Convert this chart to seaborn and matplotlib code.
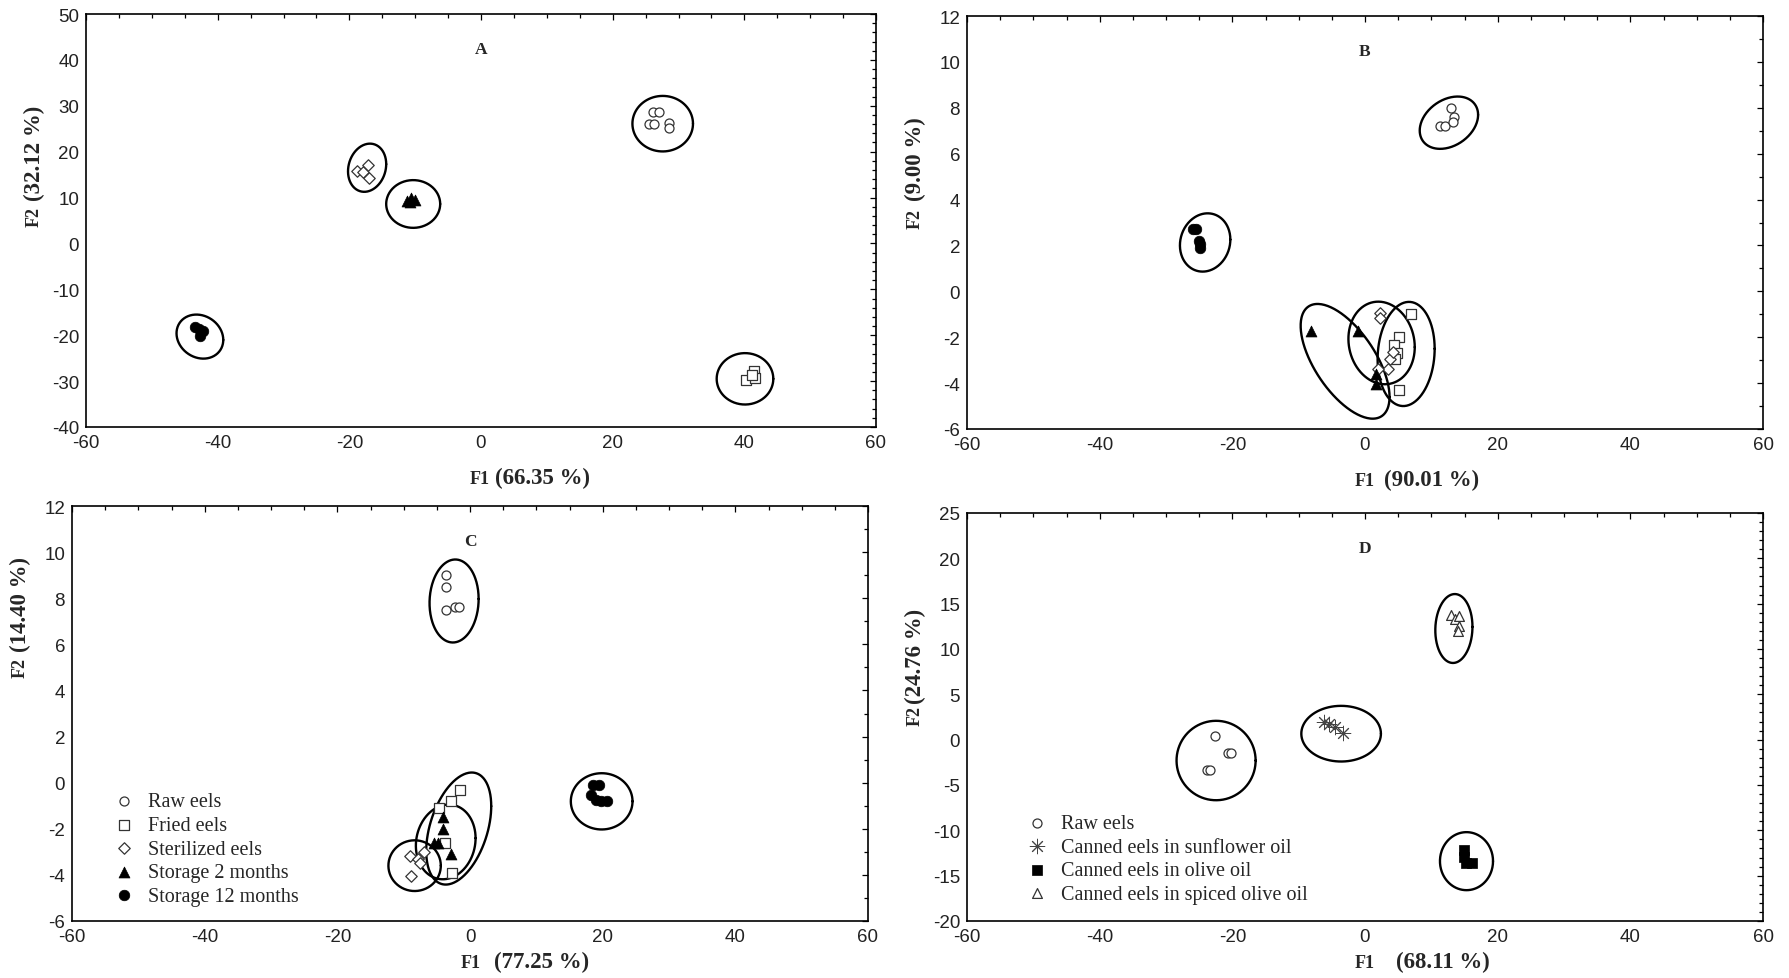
import numpy as np
import pandas as pd
import matplotlib
matplotlib.use("Agg")
import matplotlib.pyplot as plt
from matplotlib import font_manager as fm
from matplotlib.ticker import MultipleLocator
import seaborn as sns

# group names
groups_abc = ["Raw eels", "Fried eels", "Sterilized eels", "Storage 2 months", "Storage 12 months"]
groups_d = ["Raw eels", "Canned eels in sunflower oil", "Canned eels in olive oil",
            "Canned eels in spiced olive oil"]

# ---- panel A scores (F1, F2) ----
A_raw_x = [26.2, 27.0, 25.5, 26.3, 28.5, 28.5]
A_raw_y = [28.6, 28.6, 26.1, 26.1, 26.3, 25.2]
A_fried_x = [40.3, 41.4, 41.6, 41.2]
A_fried_y = [-29.7, -27.8, -29.4, -28.6]
A_ster_x = [-18.9, -18.0, -17.2, -17.0]
A_ster_y = [15.8, 15.6, 17.2, 14.3]
A_s2_x = [-11.2, -10.6, -10.0, -10.8]
A_s2_y = [9.3, 9.8, 9.4, 9.0]
A_s12_x = [-43.5, -42.9, -42.2, -42.7]
A_s12_y = [-18.3, -18.6, -19.0, -20.1]
# ellipses (centre, half extent x / y, tilt)
A_ell_cx = [27.6, 40.1, -17.3, -10.3, -42.7]
A_ell_cy = [26.1, -29.5, 16.5, 8.6, -20.3]
A_ell_sx = [4.6, 4.3, 2.9, 4.1, 3.55]
A_ell_sy = [6.05, 5.6, 5.25, 5.2, 4.8]
A_ell_r = [0.0, 0.0, 0.15, 0.0, -0.15]

# ---- panel B ----
B_raw_x = [11.3, 12.0, 13.0, 13.4, 13.2]
B_raw_y = [7.2, 7.2, 8.0, 7.6, 7.4]
B_fried_x = [7.0, 5.1, 4.4, 4.8, 4.5, 5.1]
B_fried_y = [-0.97, -2.0, -2.35, -2.7, -2.95, -4.3]
B_ster_x = [2.3, 2.2, 3.7, 3.5, 4.2, 1.9]
B_ster_y = [-0.95, -1.15, -2.95, -3.4, -2.65, -3.4]
B_s2_x = [-8.2, -1.0, 1.7, 1.7]
B_s2_y = [-1.75, -1.75, -3.6, -4.05]
B_s12_x = [-25.9, -25.5, -25.0, -24.8, -24.9]
B_s12_y = [2.7, 2.7, 2.2, 1.9, 2.05]
B_ell_cx = [12.65, 6.2, 2.5, -3.0, -24.1]
B_ell_cy = [7.35, -2.73, -2.25, -3.05, 2.13]
B_ell_sx = [4.4, 4.3, 5.0, 6.7, 3.8]
B_ell_sy = [1.14, 2.27, 1.8, 2.5, 1.27]
B_ell_r = [0.3, 0.1, -0.1, -0.62, 0.1]

# ---- panel C ----
C_raw_x = [-3.6, -3.6, -3.6, -2.2, -1.7]
C_raw_y = [9.0, 8.5, 7.5, 7.6, 7.6]
C_fried_x = [-1.5, -2.8, -4.6, -3.8, -2.7]
C_fried_y = [-0.3, -0.8, -1.1, -2.6, -3.9]
C_ster_x = [-9.0, -7.8, -7.0, -7.5, -8.9]
C_ster_y = [-3.2, -3.3, -3.0, -3.5, -4.05]
C_s2_x = [-4.0, -4.0, -5.4, -4.8, -2.8]
C_s2_y = [-1.5, -2.0, -2.6, -2.6, -3.1]
C_s12_x = [18.6, 19.4, 18.2, 19.0, 19.8, 20.6]
C_s12_y = [-0.1, -0.1, -0.55, -0.75, -0.8, -0.8]
C_ell_cx = [-2.4, -1.7, -8.35, -3.66, 19.85]
C_ell_cy = [7.88, -1.99, -3.6, -2.57, -0.81]
C_ell_sx = [3.7, 4.9, 3.95, 4.5, 4.65]
C_ell_sy = [1.8, 2.43, 1.1, 1.62, 1.22]
C_ell_r = [0.05, 0.4, 0.0, 0.1, 0.0]

# ---- panel D ----
D_raw_x = [-22.6, -20.6, -20.2, -23.8, -23.4]
D_raw_y = [0.4, -1.5, -1.5, -3.3, -3.3]
D_sun_x = [-6.2, -5.4, -4.5, -3.3]
D_sun_y = [1.9, 1.7, 1.4, 0.7]
D_olive_x = [14.9, 14.9, 15.2, 16.1]
D_olive_y = [-12.2, -12.9, -13.6, -13.6]
D_spice_x = [12.9, 13.6, 14.1, 14.1, 14.0]
D_spice_y = [13.8, 13.3, 13.6, 12.5, 12.0]
D_ell_cx = [-22.45, -3.6, 15.3, 13.4]
D_ell_cy = [-2.3, 0.66, -13.4, 12.26]
D_ell_sx = [5.96, 6.0, 4.0, 2.8]
D_ell_sy = [4.38, 3.07, 3.2, 3.8]
D_ell_r = [0.0, 0.0, 0.0, 0.05]

# axis labels
x_pct = ["(66.35 %)", "(90.01 %)", "(77.25 %)", "(68.11 %)"]
y_pct = ["(32.12 %)", "(9.00 %)", "(14.40 %)", "(24.76 %)"]
letters = ["A", "B", "C", "D"]


def make_df(groups, xs, ys):
    rows = []
    for g, gx, gy in zip(groups, xs, ys):
        for a, b in zip(gx, gy):
            rows.append((g, a, b))
    return pd.DataFrame(rows, columns=["group", "F1", "F2"])


dfA = make_df(groups_abc, [A_raw_x, A_fried_x, A_ster_x, A_s2_x, A_s12_x],
              [A_raw_y, A_fried_y, A_ster_y, A_s2_y, A_s12_y])
dfB = make_df(groups_abc, [B_raw_x, B_fried_x, B_ster_x, B_s2_x, B_s12_x],
              [B_raw_y, B_fried_y, B_ster_y, B_s2_y, B_s12_y])
dfC = make_df(groups_abc, [C_raw_x, C_fried_x, C_ster_x, C_s2_x, C_s12_x],
              [C_raw_y, C_fried_y, C_ster_y, C_s2_y, C_s12_y])
dfD = make_df(groups_d, [D_raw_x, D_sun_x, D_olive_x, D_spice_x],
              [D_raw_y, D_sun_y, D_olive_y, D_spice_y])

open_ec = "#333333"
styles = {
    "Raw eels": dict(marker="o", s=42, color="white", edgecolor=open_ec, linewidth=0.9),
    "Fried eels": dict(marker="s", s=48, color="white", edgecolor=open_ec, linewidth=0.9),
    "Sterilized eels": dict(marker="D", s=34, color="white", edgecolor=open_ec, linewidth=0.9),
    "Storage 2 months": dict(marker="^", s=62, color="black", edgecolor="black", linewidth=0.5),
    "Storage 12 months": dict(marker="o", s=58, color="black", edgecolor="black", linewidth=0.5),
    "Canned eels in sunflower oil": dict(marker=(8, 2, 0), s=110, color="#444444", linewidth=0.7),
    "Canned eels in olive oil": dict(marker="s", s=55, color="black", edgecolor="black", linewidth=0.5),
    "Canned eels in spiced olive oil": dict(marker="^", s=50, color="white", edgecolor=open_ec, linewidth=0.9),
}

sns.set_theme(style="white")
avail = {f.name for f in fm.fontManager.ttflist}
sans = "Liberation Sans Narrow" if "Liberation Sans Narrow" in avail else "Liberation Sans"
serif = "Liberation Serif"
plt.rcParams["font.family"] = [sans, "DejaVu Sans"]
plt.rcParams["axes.unicode_minus"] = False

W, H = 1789, 979
fig = plt.figure(figsize=(W / 100, H / 100), dpi=100)
fig.patch.set_facecolor("white")

# axes boxes in pixels: left, top, right, bottom
boxes = [(86, 15, 876, 428), (967, 17, 1763, 430), (72, 507, 868, 922), (967, 514, 1763, 922)]
axes = [fig.add_axes([l / W, 1 - b / H, (r - l) / W, (b - t) / H]) for l, t, r, b in boxes]

panels = [
    (dfA, groups_abc, (A_ell_cx, A_ell_cy, A_ell_sx, A_ell_sy, A_ell_r), (-40, 50), 10, 2),
    (dfB, groups_abc, (B_ell_cx, B_ell_cy, B_ell_sx, B_ell_sy, B_ell_r), (-6, 12), 2, 1),
    (dfC, groups_abc, (C_ell_cx, C_ell_cy, C_ell_sx, C_ell_sy, C_ell_r), (-6, 12), 2, 1),
    (dfD, groups_d, (D_ell_cx, D_ell_cy, D_ell_sx, D_ell_sy, D_ell_r), (-20, 25), 5, 1),
]

t = np.linspace(0, 2 * np.pi, 240)

for i, (ax, (df, groups, ell, ylim, ymaj, ymin)) in enumerate(zip(axes, panels)):
    for g in groups:
        sns.scatterplot(data=df[df["group"] == g], x="F1", y="F2", ax=ax,
                        label=g, legend=False, zorder=3, **styles[g])
    # confidence ellipses
    for cx, cy, sx, sy, r in zip(*ell):
        ex = cx + sx * np.cos(t)
        ey = cy + sy * (r * np.cos(t) + np.sqrt(1 - r ** 2) * np.sin(t))
        ax.plot(ex, ey, color="black", lw=1.7, zorder=2)

    ax.set_xlim(-60, 60)
    ax.set_ylim(*ylim)
    ax.xaxis.set_major_locator(MultipleLocator(20))
    ax.xaxis.set_minor_locator(MultipleLocator(5))
    ax.yaxis.set_major_locator(MultipleLocator(ymaj))
    ax.yaxis.set_minor_locator(MultipleLocator(ymin))
    ax.tick_params(which="both", direction="in", top=True, right=True, color="black",
                   width=0.9)
    ax.tick_params(which="major", length=4.5, labelsize=13.5, pad=5, labelcolor="#222222")
    ax.tick_params(which="minor", length=3)
    for sp in ax.spines.values():
        sp.set_color("black")
        sp.set_linewidth(1.2)
        sp.set_visible(True)
    ax.set_xlabel("")
    ax.set_ylabel("")
    ax.set_facecolor("white")

    ax.text(0.5, 0.915, letters[i], transform=ax.transAxes, ha="center", va="center",
            family=serif, fontweight="bold", fontsize=12.5)

# axis titles: small "F1"/"F2" followed by the bigger percentage
xl_pos = [(0.498, 11.5, -40), (0.5, 14, -40), (0.501, 17, -33), (0.5, 22, -33)]
yl_pos = [(0.51, 12), (0.51, 13), (0.613, 11), (0.504, 9)]
for ax, xp, yp, xs, ys in zip(axes, x_pct, y_pct, xl_pos, yl_pos):
    fx, gap, dy = xs
    ax.annotate("F1", xy=(fx, 0), xycoords="axes fraction", xytext=(0, dy),
                textcoords="offset points", ha="center", va="baseline",
                family=serif, fontweight="bold", fontsize=13)
    ax.annotate(xp, xy=(fx, 0), xycoords="axes fraction", xytext=(gap, dy),
                textcoords="offset points", ha="left", va="baseline",
                family=serif, fontweight="bold", fontsize=16.5)
    fy, gap2 = ys
    ax.annotate("F2", xy=(0, fy), xycoords="axes fraction", xytext=(-37, 0),
                textcoords="offset points", ha="center", va="center", rotation=90,
                family=serif, fontweight="bold", fontsize=13)
    ax.annotate(yp, xy=(0, fy), xycoords="axes fraction", xytext=(-37, gap2),
                textcoords="offset points", ha="center", va="bottom", rotation=90,
                family=serif, fontweight="bold", fontsize=16.5)

# legends on C and D
for ax, anchor in [(axes[2], (0.053, 0.31)), (axes[3], (0.075, 0.262))]:
    ax.legend(loc="upper left", bbox_to_anchor=anchor, frameon=False,
              prop={"family": serif, "size": 14.5}, handlelength=1.0,
              handletextpad=0.7, labelspacing=0.22, borderaxespad=0, borderpad=0,
              scatterpoints=1)

fig.savefig("out.png", dpi=100, facecolor="white")
